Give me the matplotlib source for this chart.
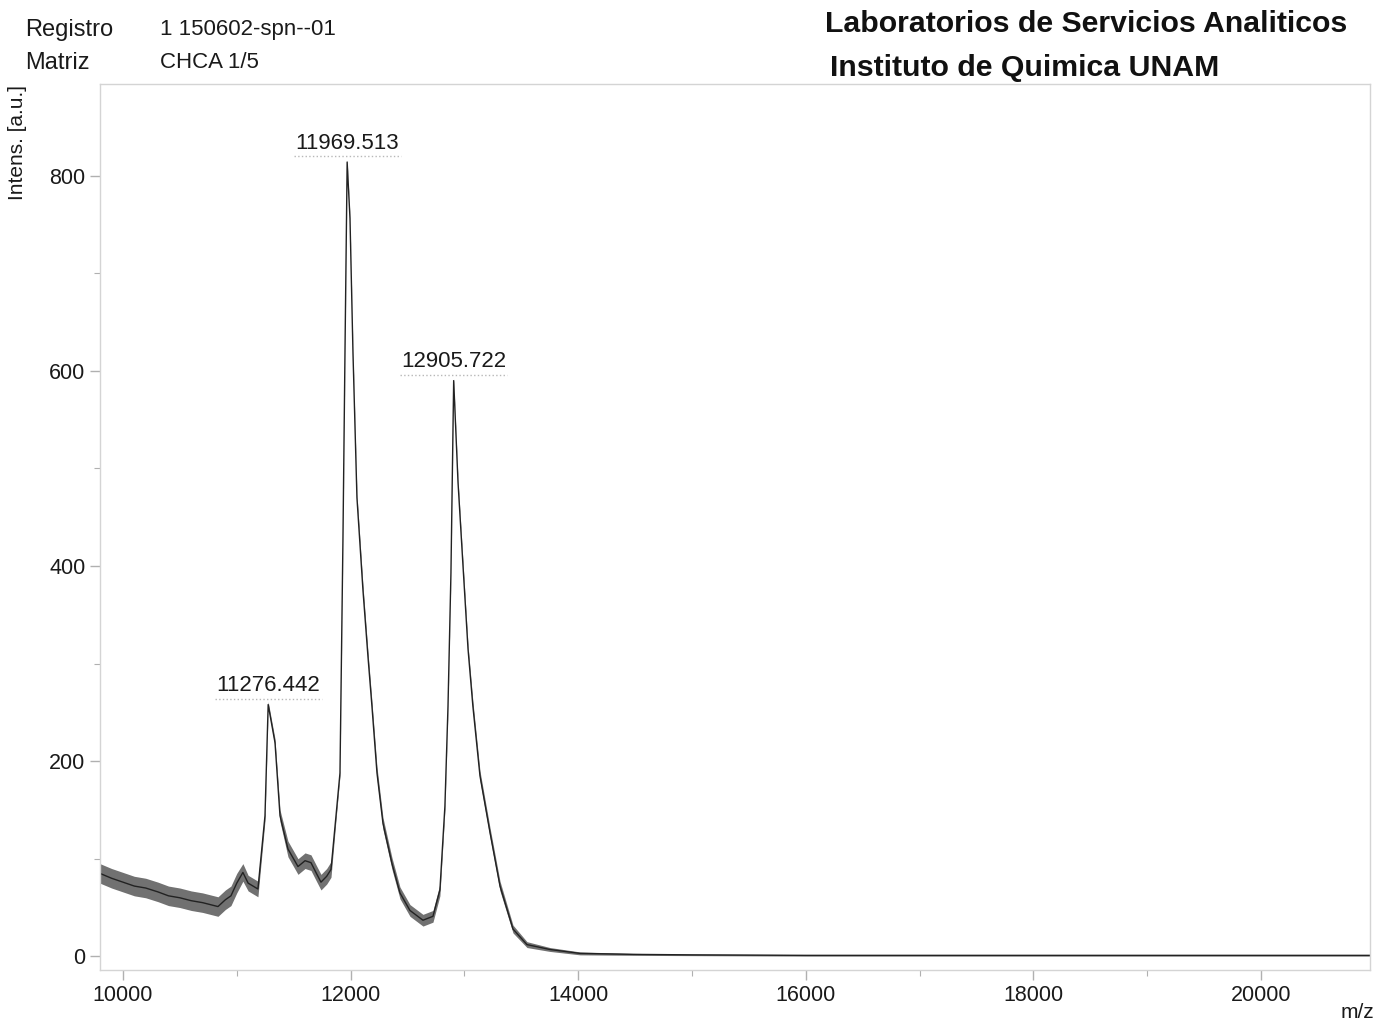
import matplotlib
matplotlib.use('Agg')
import matplotlib.pyplot as plt
from matplotlib.ticker import MultipleLocator
from matplotlib.transforms import offset_copy

plt.rcParams['font.family'] = ['Liberation Sans', 'DejaVu Sans']

# spectrum: m/z, mean intensity, half width of the noise band
mz = [9798, 9900, 10000, 10100, 10200, 10308, 10400, 10500, 10600, 10700,
      10835, 10900, 10949, 11000, 11054, 11100, 11186, 11248, 11276, 11336,
      11380, 11450, 11538, 11600, 11652, 11700, 11740, 11790, 11828, 11872,
      11907, 11933, 11951, 11970, 11995, 12021, 12056, 12109, 12153, 12188,
      12232, 12285, 12364, 12434, 12522, 12636, 12724, 12785, 12829, 12856,
      12882, 12906, 12944, 12988, 13032, 13075, 13137, 13225, 13313, 13427,
      13550, 13752, 14016, 14481, 15000, 16000, 17000, 18000, 19000, 20000, 20958]
intens = [85, 80, 76, 72, 70, 66, 62, 60, 57, 55,
          51, 58, 62, 75, 86, 75, 69, 144, 258, 219,
          144, 110, 92, 98, 96, 85, 76, 82, 89, 144,
          188, 427, 620, 814, 756, 619, 470, 375, 307, 256,
          188, 136, 95, 65, 47, 37, 41, 68, 154, 256,
          393, 590, 486, 400, 315, 256, 185, 127, 72, 28,
          12, 7, 3, 2, 1.5, 1, 1, 1, 1, 1, 1]
noise = [10, 10, 10, 10, 10, 10, 10, 10, 10, 10,
         10, 10, 10, 10, 9, 8, 8, 5, 3, 4,
         6, 8, 8, 8, 8, 8, 8, 8, 8, 4,
         3, 2, 2, 2, 2, 3, 4, 5, 5, 5,
         6, 6, 6, 6, 6, 6, 6, 6, 4, 3,
         2, 2, 3, 4, 4, 5, 5, 5, 5, 4,
         3, 2, 1.5, 1, 0.8, 0.8, 0.8, 0.8, 0.8, 0.8, 0.8]

peak_mz = [11276.442, 11969.513, 12905.722]
peak_int = [258, 814, 590]
peak_labels = ['11276.442', '11969.513', '12905.722']

fig = plt.figure(figsize=(13.75, 10.19), dpi=100)
ax = fig.add_axes([0.0727, 0.0481, 0.9237, 0.8695])

lo = [i - n for i, n in zip(intens, noise)]
hi = [i + n for i, n in zip(intens, noise)]
ax.fill_between(mz, lo, hi, color='#3a3a3a', linewidth=0, alpha=0.72)
ax.plot(mz, intens, color='#222222', linewidth=1.0)

ax.set_xlim(9798, 20958)
ax.set_ylim(-14, 894)

ax.xaxis.set_major_locator(MultipleLocator(2000))
ax.xaxis.set_minor_locator(MultipleLocator(1000))
ax.yaxis.set_major_locator(MultipleLocator(200))
ax.yaxis.set_minor_locator(MultipleLocator(100))
ax.tick_params(which='both', direction='out', color='#b0b0b0', labelsize=15.5,
               labelcolor='#1a1a1a', top=False, right=False)
ax.tick_params(which='major', length=7, width=1)
ax.tick_params(which='minor', length=4, width=0.8)
for s in ax.spines.values():
    s.set_color('#d4d4d4')
    s.set_linewidth(1)

# peak labels with a dotted underline
under = offset_copy(ax.transData, fig=fig, x=0, y=4, units='points')
for x, y, lab in zip(peak_mz, peak_int, peak_labels):
    ax.annotate(lab, (x, y), xytext=(0, 6), textcoords='offset points',
                ha='center', va='bottom', fontsize=16, color='#1a1a1a')
    ax.plot([x - 470, x + 470], [y, y], transform=under, color='#b8b8b8',
            linewidth=1, linestyle=':', clip_on=False)

fig.text(18 / 1375, 1 - 85 / 1019, 'Intens. [a.u.]', rotation=90,
         ha='center', va='top', fontsize=15, color='#1a1a1a')
fig.text(1357 / 1375, 1 - 1012 / 1019, 'm/z', ha='center', va='center',
         fontsize=15, color='#1a1a1a')

fig.text(25 / 1375, 1 - 30 / 1019, 'Registro', ha='left', va='center', fontsize=17, color='#1a1a1a')
fig.text(25 / 1375, 1 - 63 / 1019, 'Matriz', ha='left', va='center', fontsize=17, color='#1a1a1a')
fig.text(160 / 1375, 1 - 30 / 1019, '1 150602-spn--01', ha='left', va='center', fontsize=16, color='#1a1a1a')
fig.text(160 / 1375, 1 - 63 / 1019, 'CHCA 1/5', ha='left', va='center', fontsize=16, color='#1a1a1a')
fig.text(825 / 1375, 1 - 24 / 1019, 'Laboratorios de Servicios Analiticos', ha='left', va='center',
         fontsize=21.8, fontweight='bold', color='#111111')
fig.text(830 / 1375, 1 - 68 / 1019, 'Instituto de Quimica UNAM', ha='left', va='center',
         fontsize=21.8, fontweight='bold', color='#111111')

plt.savefig('out.png', dpi=100)
plt.close('all')
